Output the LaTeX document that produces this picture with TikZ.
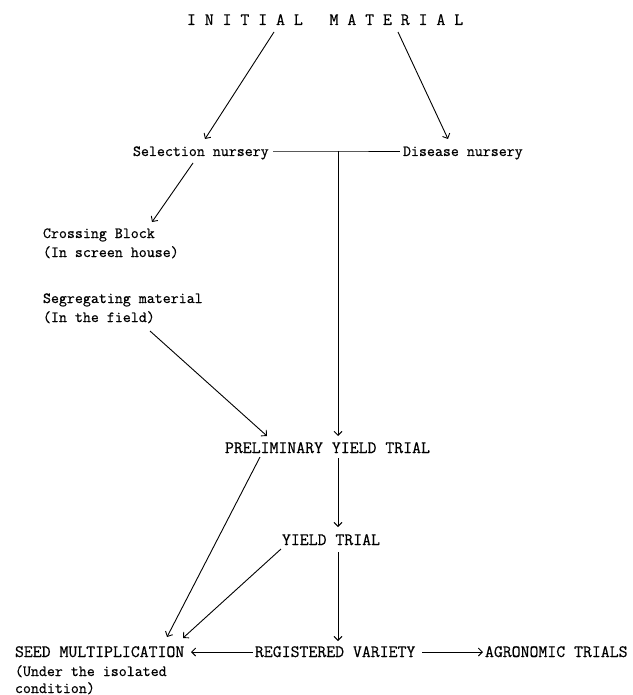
\documentclass[tikz,border=0pt]{standalone}
\usepackage{fontspec}
\setmonofont{Latin Modern Mono}[FakeBold=0.6]
\usetikzlibrary{arrows.meta}
\begin{document}
\begin{tikzpicture}[x=1pt,y=-1pt,
  caps/.style={anchor=base west,inner sep=0pt,outer sep=0pt,font=\ttfamily\fontsize{17.3}{20}\selectfont},
  lower/.style={anchor=base west,inner sep=0pt,outer sep=0pt,font=\ttfamily\fontsize{15.5}{19}\selectfont},
  conn/.style={line width=0.9pt,draw=black},
  arr/.style={conn,-{Straight Barb[length=4pt,width=8pt,line width=0.9pt]}}]
\useasboundingbox (0,0) rectangle (632,695);
% nodes
\node[caps]  (init)  at (187,25)  {I\ N\ I\ T\ I\ A\ L\ \ \ M\ A\ T\ E\ R\ I\ A\ L};
\node[lower] (sel)   at (133,156) {Selection nursery};
\node[lower] (dis)   at (403,156) {Disease nursery};
\node[lower] (cross1) at (43,238) {Crossing Block};
\node[lower] (cross2) at (43,257) {(In screen house)};
\node[lower] (seg1)  at (43,303)  {Segregating material};
\node[lower] (seg2)  at (43,322)  {(In the field)};
\node[caps]  (prel)  at (225,453) {PRELIMINARY YIELD TRIAL};
\node[caps]  (yield) at (282,545) {YIELD TRIAL};
\node[caps]  (seed1) at (15,657)  {SEED MULTIPLICATION};
\node[lower] (seed2) at (15,676)  {(Under the isolated};
\node[lower] (seed3) at (15,693)  {condition)};
\node[caps]  (reg)   at (255,657) {REGISTERED VARIETY};
\node[caps]  (agro)  at (485,657) {AGRONOMIC TRIALS};
\coordinate (j) at (338,151);
% connectors
\draw[arr] ([shift={(87,7)}]init.base west) -- ([shift={(72,-17)}]sel.base west);
\draw[arr] ([shift={(211,7)}]init.base west) -- ([shift={(45,-17)}]dis.base west);
\draw[arr] ([shift={(60,7)}]sel.base west) -- ([shift={(109,-16)}]cross1.base west);
\draw[conn] ([shift={(140,-5)}]sel.base west) -- (j) -- ([shift={(-3,-5)}]dis.base west);
\draw[arr] (j) -- ([shift={(113,-17)}]prel.base west);
\draw[arr] ([shift={(107,9)}]seg2.base west) -- ([shift={(42,-17)}]prel.base west);
\draw[arr] ([shift={(35,4)}]prel.base west) -- ([shift={(152,-20)}]seed1.base west);
\draw[arr] ([shift={(113,5)}]prel.base west) -- ([shift={(56,-18)}]yield.base west);
\draw[arr] ([shift={(-1,4)}]yield.base west) -- ([shift={(168,-19)}]seed1.base west);
\draw[arr] ([shift={(56,7)}]yield.base west) -- ([shift={(83,-16)}]reg.base west);
\draw[arr] ([shift={(-2,-5)}]reg.base west) -- ([shift={(176,-5)}]seed1.base west);
\draw[arr] ([shift={(167,-5)}]reg.base west) -- ([shift={(-2,-5)}]agro.base west);
\end{tikzpicture}
\end{document}
